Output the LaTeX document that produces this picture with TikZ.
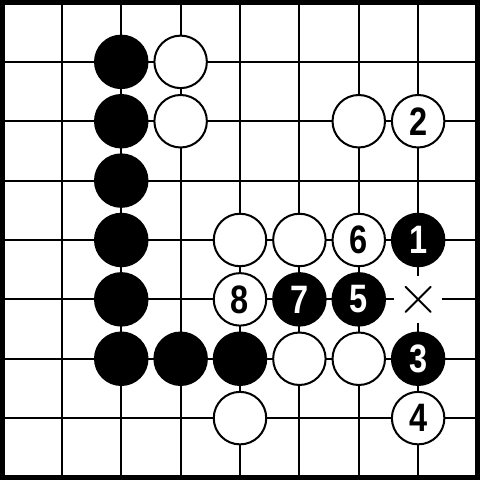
\documentclass[tikz,border=0pt]{standalone}
\usepackage{fontspec}
\newfontfamily\stonefont{Liberation Sans}[FakeStretch=0.82]
\usetikzlibrary{shapes.misc}
\begin{document}
\begin{tikzpicture}[line join=round, line cap=round, font=\stonefont\bfseries\fontsize{19}{19}\selectfont,
  blackstone/.style={circle,draw=black,fill=black,text=white,line width=0.034cm,minimum size=0.884cm,inner sep=0pt},
  whitestone/.style={circle,draw=black,fill=white,text=black,line width=0.034cm,minimum size=0.884cm,inner sep=0pt}]
  \useasboundingbox (-0.042,-0.042) rectangle (8.042,8.042);
  \draw[line width=0.034cm] (0,0) grid (8,8);
  \draw[line width=0.084cm,line join=miter] (0,0) rectangle (8,8);
  % black wall
  \node[blackstone] (b27) at (2,7) {};
  \node[blackstone] (b26) at (2,6) {};
  \node[blackstone] (b25) at (2,5) {};
  \node[blackstone] (b24) at (2,4) {};
  \node[blackstone] (b23) at (2,3) {};
  \node[blackstone] (b22) at (2,2) {};
  \node[blackstone] (b32) at (3,2) {};
  \node[blackstone] (b42) at (4,2) {};
  % white stones
  \node[whitestone] (w37) at (3,7) {};
  \node[whitestone] (w36) at (3,6) {};
  \node[whitestone] (w66) at (6,6) {};
  \node[whitestone] (w44) at (4,4) {};
  \node[whitestone] (w54) at (5,4) {};
  \node[whitestone] (w52) at (5,2) {};
  \node[whitestone] (w62) at (6,2) {};
  \node[whitestone] (w41) at (4,1) {};
  % moves
  \node[blackstone] (m1) at (7,4) {1};
  \node[whitestone] (m2) at (7,6) {2};
  \node[blackstone] (m3) at (7,2) {3};
  \node[whitestone] (m4) at (7,1) {4};
  \node[blackstone] (m5) at (6,3) {5};
  \node[whitestone] (m6) at (6,4) {6};
  \node[blackstone] (m7) at (5,3) {7};
  \node[whitestone] (m8) at (4,3) {8};
  % the point marked x
  \node[fill=white,minimum size=0.8cm,inner sep=0pt] (gap) at (7,3) {};
  \node[cross out,draw,line width=0.034cm,minimum size=0.39cm,inner sep=0pt] (cross) at (gap) {};
\end{tikzpicture}
\end{document}
